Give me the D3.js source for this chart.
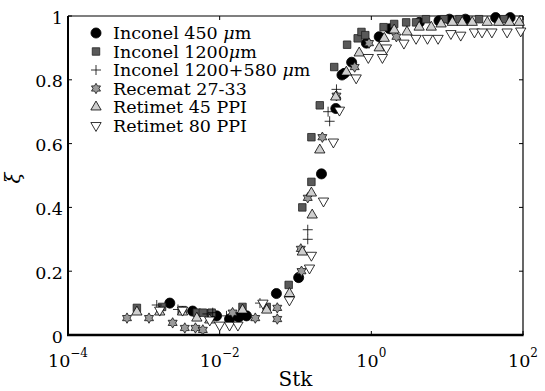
<!DOCTYPE html>
<html><head><meta charset="utf-8">
<script src="https://cdn.jsdelivr.net/npm/d3@7"></script>
<style>
html,body{margin:0;padding:0;background:#fff;}
</style></head>
<body><svg id="c" width="545" height="391" font-family="'DejaVu Serif', serif"></svg>
<script>
// ---- data ----
const inconel450Stk = [0.0022,0.0044,0.0091,0.0135,0.0178,0.0226,0.056,0.11,0.22,0.34,0.41,0.44,0.55,0.86,1.27,1.74,4.3,7.8,10.7,17.4,43.6,67.6];
const inconel450Xi  = [0.10,0.075,0.06,0.05,0.056,0.06,0.13,0.18,0.505,0.71,0.815,0.82,0.855,0.915,0.935,0.96,0.98,0.985,0.99,0.99,0.995,0.995];

const inconel1200Stk = [0.00081,0.00174,0.00324,0.0050,0.0060,0.00785,0.020,0.0417,0.0813,0.123,0.162,0.162,0.209,0.324,0.479,0.661,0.741,0.832,1.45,2.0,2.88,3.89,5.25,9.12,14.5,26.3,56.2];
const inconel1200Xi  = [0.085,0.088,0.078,0.07,0.07,0.07,0.088,0.088,0.157,0.40,0.48,0.62,0.72,0.84,0.91,0.93,0.95,0.94,0.965,0.975,0.98,0.98,0.99,0.99,0.99,0.99,0.99];

const inconel1200p580Stk = [0.00148,0.00282,0.0069,0.0081,0.0123,0.034,0.145,0.145,0.269,0.282,0.347];
const inconel1200p580Xi  = [0.094,0.08,0.066,0.07,0.06,0.10,0.33,0.30,0.70,0.67,0.77];

const recematStk = [0.0006,0.00117,0.0024,0.00347,0.00479,0.006,0.0148,0.0295,0.0575,0.0575,0.12,0.1175,0.145,0.226,0.347,0.603,0.933,2.14];
const recematXi  = [0.053,0.053,0.038,0.022,0.022,0.016,0.07,0.053,0.085,0.05,0.20,0.27,0.43,0.62,0.75,0.84,0.915,0.935];

const retimet45Stk = [0.00081,0.00162,0.00324,0.005,0.0074,0.02,0.0417,0.0832,0.123,0.166,0.162,0.209,0.339,0.468,0.692,1.27,1.48,2.0,2.95,4.27,6.17,8.32,11.7,15.8,21.4,33.9,47.9,66.1,89.1];
const retimet45Xi  = [0.072,0.072,0.072,0.053,0.047,0.078,0.078,0.13,0.26,0.376,0.445,0.58,0.746,0.824,0.884,0.90,0.93,0.956,0.95,0.965,0.965,0.975,0.98,0.98,0.98,0.98,0.98,0.98,0.98];

const retimet80Stk = [0.00162,0.00324,0.0074,0.01,0.0135,0.0174,0.0372,0.0832,0.153,0.162,0.234,0.316,0.38,0.631,0.912,1.40,1.58,2.69,3.89,5.5,7.59,11.2,15.1,22.9,28.8,38.9,61.7,93.3];
const retimet80Xi  = [0.078,0.078,0.047,0.031,0.031,0.031,0.10,0.11,0.21,0.25,0.42,0.605,0.705,0.806,0.87,0.87,0.90,0.915,0.93,0.93,0.93,0.945,0.94,0.95,0.95,0.95,0.95,0.953];

const seriesNames = ["Inconel 450 μm","Inconel 1200μm","Inconel 1200+580 μm","Recemat 27-33","Retimet 45 PPI","Retimet 80 PPI"];
const xTickExps = [-4,-2,0,2];
const yTicks = [0,0.2,0.4,0.6,0.8,1];
const yTickLabels = ["0","0.2","0.4","0.6","0.8","1"];
const xLabel = "Stk";
const yLabel = "ξ";

// ---- layout ----
const L=68,R=523,T=16,B=335;
const FS=17.5;
const svg=d3.select("#c");
const x=d3.scaleLog().domain([1e-4,1e2]).range([L,R]);
const y=d3.scaleLinear().domain([0,1]).range([B,T]);

// marker shapes
function hexagram(r){
  const pts=[];
  for(let i=0;i<12;i++){
    const a=-Math.PI/2+i*Math.PI/6;
    const rr=(i%2===0)?r:r/Math.sqrt(3);
    pts.push([rr*Math.cos(a),rr*Math.sin(a)]);
  }
  return d3.line()(pts)+"Z";
}
const shapes=[
  {d:d3.symbol(d3.symbolCircle,80)(), fill:"#000", stroke:"#000", rot:0},
  {d:d3.symbol(d3.symbolSquare,56)(), fill:"#595959", stroke:"#222", rot:0},
  {d:"M-5,0H5M0,-5V5", fill:"none", stroke:"#000", rot:0},
  {d:hexagram(5.2), fill:"#9a9a9a", stroke:"#111", rot:0},
  {d:d3.symbol(d3.symbolTriangle,46)(), fill:"#cfcfcf", stroke:"#000", rot:0},
  {d:d3.symbol(d3.symbolTriangle,46)(), fill:"#fff", stroke:"#000", rot:180}
];
const series=[
  [inconel450Stk,inconel450Xi],
  [inconel1200Stk,inconel1200Xi],
  [inconel1200p580Stk,inconel1200p580Xi],
  [recematStk,recematXi],
  [retimet45Stk,retimet45Xi],
  [retimet80Stk,retimet80Xi]
];

// axes box (top/right)
const ax=svg.append("g");
ax.append("line").attr("x1",L).attr("x2",R).attr("y1",T).attr("y2",T).attr("stroke","#000").attr("stroke-width",1.2);
ax.append("line").attr("x1",R).attr("x2",R).attr("y1",T).attr("y2",B).attr("stroke","#000").attr("stroke-width",1.2);

// points
const pg=svg.append("g");
series.forEach((s,si)=>{
  const sh=shapes[si];
  const data=s[0].map((v,i)=>({x:v,y:s[1][i]}));
  pg.append("g").selectAll("path").data(data).join("path")
    .attr("d",sh.d)
    .attr("transform",d=>`translate(${x(d.x)},${y(d.y)}) rotate(${sh.rot})`)
    .attr("fill",sh.fill).attr("stroke",sh.stroke).attr("stroke-width",0.8);
});

// left & bottom axes
ax.append("line").attr("x1",L).attr("x2",L).attr("y1",T).attr("y2",B+1).attr("stroke","#000").attr("stroke-width",2);
svg.append("line").attr("x1",L-1).attr("x2",R+0.6).attr("y1",B).attr("y2",B).attr("stroke","#000").attr("stroke-width",2.4);

// y ticks
const yg=svg.append("g");
yTicks.forEach((t,i)=>{
  yg.append("line").attr("x1",L).attr("x2",L+4).attr("y1",y(t)).attr("y2",y(t)).attr("stroke","#000");
  yg.append("line").attr("x1",R).attr("x2",R-4).attr("y1",y(t)).attr("y2",y(t)).attr("stroke","#000");
  yg.append("text").attr("x",L-5).attr("y",y(t)+7.5).attr("text-anchor","end").attr("font-size",FS).text(yTickLabels[i]);
});
// x ticks
const xg=svg.append("g");
xTickExps.forEach(e=>{
  const px=x(Math.pow(10,e));
  xg.append("line").attr("x1",px).attr("x2",px).attr("y1",B).attr("y2",B-4).attr("stroke","#000");
  xg.append("line").attr("x1",px).attr("x2",px).attr("y1",T).attr("y2",T+4).attr("stroke","#000");
  const t=xg.append("text").attr("x",px).attr("y",367).attr("text-anchor","middle").attr("font-size",FS);
  t.append("tspan").text("10");
  t.append("tspan").attr("dy",-10).attr("font-size",12).text(e<0?"−"+(-e):String(e));
});
svg.append("text").attr("x",(L+R)/2).attr("y",386).attr("text-anchor","middle").attr("font-size",20).text(xLabel);
svg.append("text").attr("transform",`translate(20,178) rotate(-90)`).attr("text-anchor","middle").attr("font-size",20).attr("font-style","italic").text(yLabel);

// legend
const lg=svg.append("g");
seriesNames.forEach((n,i)=>{
  const yy=33+i*18.5;
  const sh=shapes[i];
  lg.append("path").attr("d",sh.d).attr("transform",`translate(96,${yy}) rotate(${sh.rot})`)
    .attr("fill",sh.fill).attr("stroke",sh.stroke).attr("stroke-width",0.8);
  const t=lg.append("text").attr("x",113).attr("y",yy+6).attr("font-size",FS);
  const m=n.indexOf("μ");
  if(m>=0){
    t.append("tspan").text(n.slice(0,m));
    t.append("tspan").attr("font-style","italic").text("μ");
    t.append("tspan").text(n.slice(m+1));
  } else t.text(n);
});
</script></body></html>
